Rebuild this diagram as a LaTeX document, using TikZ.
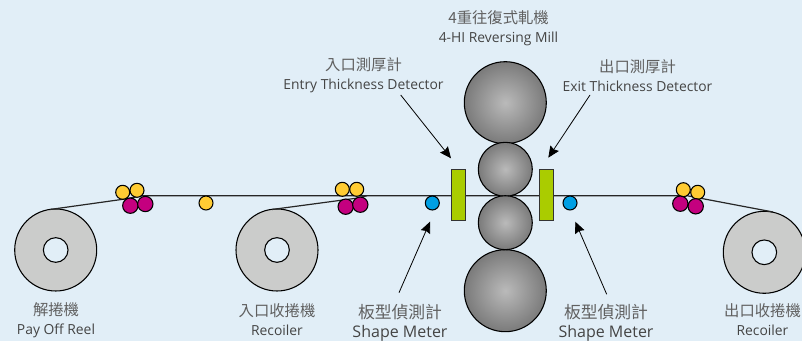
\documentclass[tikz,border=0pt]{standalone}
\usepackage{fontspec}
\setmainfont{Open Sans}
\newfontfamily\cjk{Noto Sans CJK TC}
\usetikzlibrary{arrows.meta}
\definecolor{bgblue}{HTML}{E1EEF7}
\definecolor{reelgray}{HTML}{CBCCCB}
\definecolor{rollyellow}{HTML}{FFCC33}
\definecolor{rollmagenta}{HTML}{C4007F}
\definecolor{meterblue}{HTML}{009FE3}
\definecolor{gaugegreen}{HTML}{AACC00}
\definecolor{textgray}{HTML}{444444}
\newcommand{\zh}[2][11.5]{{\cjk\fontsize{#1}{14.4}\selectfont\color{textgray!85}#2}}
\tikzset{
  reel/.style={draw, circle, fill=reelgray, line width=0.8pt, minimum size=61.5pt, inner sep=0pt},
  hole/.style={draw, circle, fill=bgblue, line width=0.8pt, minimum size=18.5pt, inner sep=0pt},
  backup/.style={draw, circle, line width=0.8pt, minimum size=61.5pt, inner sep=0pt, inner color=black!27, outer color=black!52},
  work/.style={draw, circle, line width=0.8pt, minimum size=40.5pt, inner sep=0pt, inner color=black!27, outer color=black!52},
  pinchroll/.style={draw, circle, fill=rollyellow, line width=0.8pt, minimum size=10.5pt, inner sep=0pt},
  bendroll/.style={draw, circle, fill=rollmagenta, line width=0.8pt, minimum size=11.5pt, inner sep=0pt},
  meterroll/.style={draw, circle, fill=meterblue, line width=0.8pt, minimum size=10.5pt, inner sep=0pt},
  gauge/.style={draw=black!80, fill=gaugegreen, line width=0.6pt, minimum width=10.5pt, minimum height=38pt, inner sep=0pt},
  txt/.style={align=center, text=textgray, font=\fontsize{10.4}{14.4}\selectfont},
  bigtxt/.style={align=center, text=textgray, font=\fontsize{12}{14.4}\selectfont},
  strip/.style={draw=black!85, line width=0.9pt},
  line/.style={draw, line width=0.6pt, -{Stealth[length=8.5pt,width=7.5pt,inset=1pt]}}
}
\begin{document}
\begin{tikzpicture}[x=0.75pt,y=-0.75pt]
\useasboundingbox[fill=bgblue] (0,0) rectangle (802,341);
% reels
\node[reel] (payoff) at (55.7,250) {};
\node[hole] (payoffhole) at (55.7,250) {};
\node[reel] (entryreel) at (277,250) {};
\node[hole] (entryhole) at (277,250) {};
\node[reel] (exitreel) at (764.3,252.3) {};
\node[hole] (exithole) at (764.3,252.3) {};
% strip
\coordinate (payofftop) at (50,209.5);
\coordinate (entrytop) at (272,209.5);
\coordinate (exittop) at (773,212);
\coordinate (payoffnip) at (125,199);
\coordinate (stripstart) at (143,195.7);
\coordinate (entrynip) at (358,198);
\coordinate (entrymerge) at (367,195.7);
\coordinate (stripend) at (687,195.7);
\draw[strip] (payofftop) -- (payoffnip) -- (stripstart) -- (stripend) -- (exittop);
\draw[strip] (entrytop) -- (entrynip) -- (entrymerge);
% small rolls
\node[pinchroll] (a1) at (122.7,192.3) {};
\node[pinchroll] (a2) at (137,190.3) {};
\node[bendroll] (a3) at (130.3,205.7) {};
\node[bendroll] (a4) at (145.3,204) {};
\node[pinchroll] (single) at (206,203) {};
\node[pinchroll] (b1) at (342.3,189.3) {};
\node[pinchroll] (b2) at (356.7,189.3) {};
\node[bendroll] (b3) at (345.7,206.7) {};
\node[bendroll] (b4) at (360.3,204.7) {};
\node[pinchroll] (c1) at (683.3,189.7) {};
\node[pinchroll] (c2) at (697.7,192.3) {};
\node[bendroll] (c3) at (680.3,203.7) {};
\node[bendroll] (c4) at (695.7,206.3) {};
% meters and gauges
\node[meterroll] (shapein) at (432.3,203) {};
\node[meterroll] (shapeout) at (570,203) {};
\node[gauge] (gaugein) at (458.2,194.7) {};
\node[gauge] (gaugeout) at (546.3,194.7) {};
% mill
\node[backup] (topbackup) at (505.3,102.7) {};
\node[backup] (botbackup) at (505.3,290.7) {};
\node[work] (topwork) at (505.3,169.3) {};
\node[work] (botwork) at (505.3,222.7) {};
% labels
\node[txt] (milltext) at (498.5,28.5) {\zh{4重往復式軋機}\\4-HI Reversing Mill};
\node[txt] (entrytext) at (363.5,75.5) {\zh{入口測厚計}\\Entry Thickness Detector};
\node[txt] (exittext) at (637.5,75.5) {\zh{出口測厚計}\\Exit Thickness Detector};
\node[txt] (payofftext) at (56,320) {\zh{解捲機}\\Pay Off Reel};
\node[txt] (entryreeltext) at (277,320) {\zh{入口收捲機}\\Recoiler};
\node[txt] (exitreeltext) at (762.5,320) {\zh{出口收捲機}\\Recoiler};
\node[bigtxt] (shapeintext) at (400,322.5) {\zh[12.6]{板型偵測計}\\Shape Meter};
\node[bigtxt] (shapeouttext) at (606,322.5) {\zh[12.6]{板型偵測計}\\Shape Meter};
% arrows
\coordinate (entryfrom) at (400.7,95);
\coordinate (entryto) at (451,158.3);
\coordinate (exitfrom) at (590,95);
\coordinate (exitto) at (548.3,157.7);
\coordinate (shapeinfrom) at (399,292.7);
\coordinate (shapeinto) at (430,221.7);
\coordinate (shapeoutfrom) at (606.7,294.3);
\coordinate (shapeoutto) at (575.3,221.7);
\path[line] (entryfrom) -- (entryto);
\path[line] (exitfrom) -- (exitto);
\path[line] (shapeinfrom) -- (shapeinto);
\path[line] (shapeoutfrom) -- (shapeoutto);
\end{tikzpicture}
\end{document}
